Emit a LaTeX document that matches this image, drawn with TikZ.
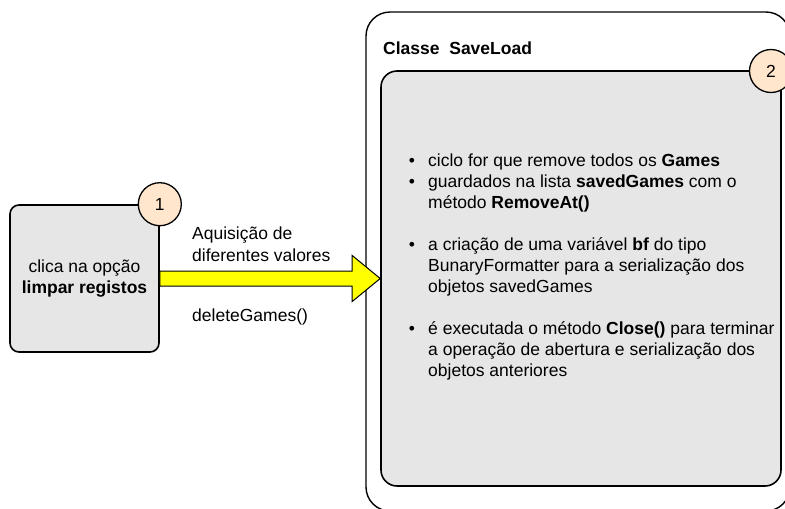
\documentclass[tikz,border=0pt]{standalone}
\usepackage{fontspec}
\setmainfont{Liberation Sans}
\usetikzlibrary{calc}
\definecolor{boxfill}{HTML}{E6E6E6}
\definecolor{badgefill}{HTML}{FFE6CC}
\definecolor{arrowfill}{HTML}{FFFF00}

\begin{document}
\begin{tikzpicture}[x=1pt, y=-1pt, font=\fontsize{17.5}{21}\selectfont,
  procbox/.style={draw, line width=1.6pt, fill=boxfill, rounded corners=9pt, inner sep=0pt},
  badge/.style={circle, draw, line width=1.3pt, fill=badgefill, minimum size=43pt, inner sep=0pt},
  txt/.style={anchor=base west, inner sep=0pt}]
  \useasboundingbox (0,0) rectangle (785,509);
  \clip (0,0) rectangle (785,509);

  % class container (runs past the page edge)
  \node[draw, line width=1.4pt, fill=white, rounded corners=24pt, minimum width=424pt, minimum height=499pt] (classe) at (578,261.5) {};
  \node[txt, font=\fontsize{17.5}{21}\selectfont\bfseries] (classetitle) at (383,54) {Classe\ \ SaveLoad};

  % user action
  \node[procbox, minimum width=149pt, minimum height=147pt, align=center] (clica) at (84.5,278.5) {clica na opção\\\textbf{limpar registos}};
  \node[badge] (b1) at (clica.north east) {1};

  % SaveLoad body
  \node[procbox, rounded corners=16pt, minimum width=400pt, minimum height=415pt] (saveload) at (581,278.5) {};
  \node[badge] (b2) at (771,71) {2};

  % fat arrow clica -> saveload
  \draw[fill=arrowfill, line width=1pt]
    ($(clica.east)+(0,-7.5)$) -- ($(saveload.west)+(-28,-7.5)$) -- ($(saveload.west)+(-28,-23)$) -- (saveload.west)
    -- ($(saveload.west)+(-28,23)$) -- ($(saveload.west)+(-28,7.5)$) -- ($(clica.east)+(0,7.5)$) -- cycle;
  \node[txt] (aq1) at (192,239) {Aquisição de};
  \node[txt] (aq2) at (192,261) {diferentes valores};
  \node[txt] (del) at (192,321) {deleteGames()};

  % bullets
  \foreach \y in {166,187,250,334}
    \node[anchor=base, inner sep=0pt] (dot\y) at (412,\y) {\textbullet};
  \foreach \y/\t [count=\i] in {
      166/{ciclo for que remove todos os \textbf{Games}},
      187/{guardados na lista \textbf{savedGames} com o},
      208/{método \textbf{RemoveAt()}},
      250/{a criação de uma variável \textbf{bf} do tipo},
      271/{BunaryFormatter para a serialização dos},
      292/{objetos savedGames},
      334/{é executada o método \textbf{Close()} para terminar},
      355/{a operação de abertura e serialização dos},
      376/{objetos anteriores}}
    \node[txt] (ln\i) at (428,\y) {\t};
\end{tikzpicture}
\end{document}
